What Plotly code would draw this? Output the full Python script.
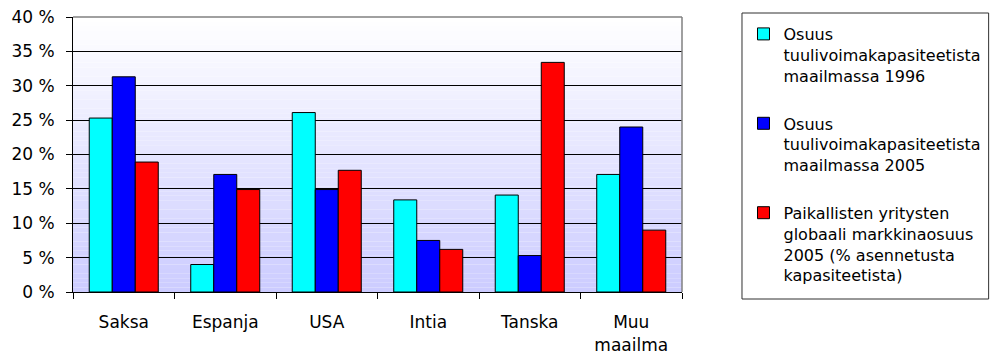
import plotly.graph_objects as go

categories = ["Saksa", "Espanja", "USA", "Intia", "Tanska", "Muu<br>maailma"]
share_1996 = [25.3, 4.0, 26.1, 13.4, 14.1, 17.1]
share_2005 = [31.3, 17.1, 14.9, 7.5, 5.3, 24.0]
market_2005 = [18.9, 14.9, 17.7, 6.2, 33.4, 9.0]

series_names = [
    "Osuus<br>tuulivoimakapasiteetista<br>maailmassa 1996",
    "Osuus<br>tuulivoimakapasiteetista<br>maailmassa 2005",
    "Paikallisten yritysten<br>globaali markkinaosuus<br>2005 (% asennetusta<br>kapasiteetista)",
]
series_values = [share_1996, share_2005, market_2005]
series_colors = ["#00FFFF", "#0000FF", "#FF0000"]

y_ticks = [0, 5, 10, 15, 20, 25, 30, 35, 40]
y_ticktext = [f"{v} %" for v in y_ticks]

FONT = "DejaVu Sans"

fig = go.Figure()
for i, (name, vals, col) in enumerate(zip(series_names, series_values, series_colors)):
    fig.add_trace(go.Bar(
        x=categories, y=vals, name=name, legendgroup=f"g{i}",
        marker=dict(color=col, line=dict(color="#000000", width=1)),
        hoverinfo="skip",
    ))

# background gradient (white at top -> lavender at bottom)
shapes = []
n = 60
for k in range(n):
    t = k / (n - 1)
    r = int(round(204 + (255 - 204) * t))
    shapes.append(dict(type="rect", xref="paper", yref="paper",
                       x0=0, x1=1, y0=k / n, y1=(k + 1) / n,
                       fillcolor=f"rgb({r},{r},255)", line=dict(width=0),
                       layer="below"))
# top and right border in gray
shapes.append(dict(type="line", xref="paper", yref="paper", x0=0, x1=1, y0=1, y1=1,
                   line=dict(color="#808080", width=1.5), layer="above"))
shapes.append(dict(type="line", xref="paper", yref="paper", x0=1, x1=1, y0=0, y1=1,
                   line=dict(color="#808080", width=1.5), layer="above"))
# legend box
shapes.append(dict(type="rect", xref="paper", yref="paper",
                   x0=1.0985, x1=1.5035, y0=-0.0255, y1=1.0145,
                   line=dict(color="#303030", width=1), fillcolor="rgba(0,0,0,0)",
                   layer="above"))

fig.update_layout(
    width=991, height=356,
    margin=dict(l=73, r=309, t=17, b=64, autoexpand=False),
    paper_bgcolor="white",
    plot_bgcolor="rgba(0,0,0,0)",
    font=dict(family=FONT, size=17, color="#000000"),
    barmode="group", bargap=0.32, bargroupgap=0,
    shapes=shapes,
    showlegend=True,
    legend=dict(
        x=1.101, y=1.0, xanchor="left", yanchor="top",
        font=dict(family=FONT, size=16, color="#000000"),
        bgcolor="rgba(0,0,0,0)", borderwidth=0,
        valign="top", traceorder="grouped", tracegroupgap=24,
        maxheight=500,
    ),
    xaxis=dict(
        showline=True, linecolor="#000000", linewidth=1,
        ticks="outside", tickson="boundaries", ticklen=6, tickcolor="#000000",
        showgrid=False, tickfont=dict(family=FONT, size=17),
        ticklabelstandoff=15,
    ),
    yaxis=dict(
        range=[0, 40], tickvals=y_ticks, ticktext=y_ticktext,
        showline=True, linecolor="#000000", linewidth=1,
        ticks="outside", ticklen=6, tickcolor="#000000",
        showgrid=True, gridcolor="#000000", gridwidth=1,
        zeroline=False, tickfont=dict(family=FONT, size=17),
        ticklabelstandoff=8,
    ),
)

fig.write_html("out.html")
